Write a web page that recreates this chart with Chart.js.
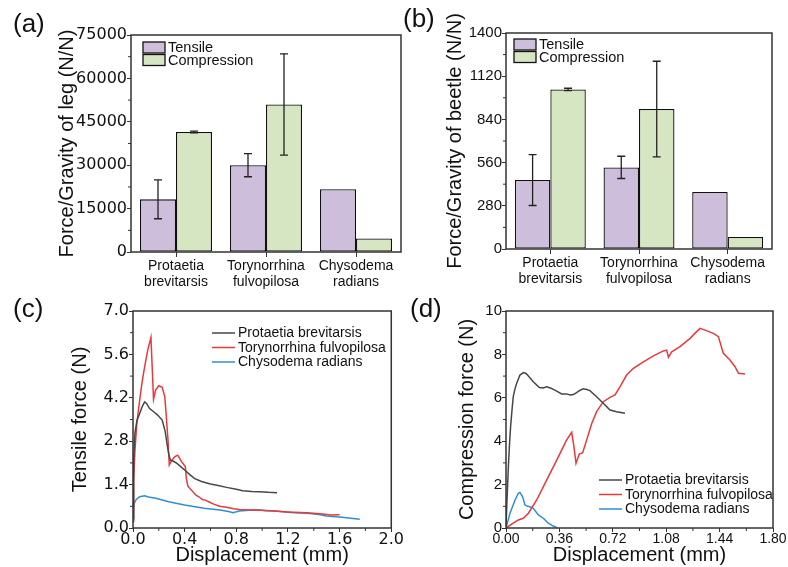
<!DOCTYPE html>
<html><head><meta charset="utf-8">
<script src="https://cdn.jsdelivr.net/npm/chart.js@4"></script>
<style>
html,body{margin:0;padding:0;background:#fff;}
#wrap{position:relative;width:788px;height:567px;overflow:hidden;background:#fff;}
canvas{position:absolute;}
</style></head><body>
<div id="wrap">
<canvas id="ca" width="404" height="290" style="left:0px;top:0px"></canvas>
<canvas id="cb" width="390" height="290" style="left:398px;top:0px"></canvas>
<canvas id="cc" width="404" height="277" style="left:0px;top:290px"></canvas>
<canvas id="cd" width="390" height="277" style="left:398px;top:290px"></canvas>
</div>
<script>
// ---------- DATA ----------
const species = [['Protaetia','brevitarsis'], ['Torynorrhina','fulvopilosa'], ['Chysodema','radians']];
const seriesNames = ['Tensile', 'Compression'];
const lineNames = ['Protaetia brevitarsis', 'Torynorrhina fulvopilosa', 'Chysodema radians'];

// (a) Force / gravity of leg
const aTensile = [18200, 30000, 21700];
const aTensileErr = [6700, 4000, 0];
const aCompression = [41500, 51000, 4700];
const aCompressionErr = [300, 17500, 0];
const aYTicks = [0, 15000, 30000, 45000, 60000, 75000];

// (b) Force / gravity of beetle
const bTensile = [447, 529, 369];
const bTensileErr = [165, 72, 0];
const bCompression = [1034, 907, 78];
const bCompressionErr = [8, 310, 0];
const bYTicks = [0, 280, 560, 840, 1120, 1400];

// (c) Tensile force vs displacement
const cProtX = [0, 0.005, 0.015, 0.03, 0.052, 0.075, 0.09, 0.105, 0.127, 0.16, 0.189, 0.226, 0.25, 0.262, 0.276, 0.289, 0.31, 0.338, 0.37, 0.4, 0.44, 0.475, 0.53, 0.6, 0.66, 0.725, 0.8, 0.85, 0.92, 0.975, 1.05, 1.115];
const cProtY = [0.3, 2.2, 3.06, 3.45, 3.7, 3.95, 4.07, 4.02, 3.86, 3.75, 3.65, 3.48, 3.1, 2.75, 2.4, 2.19, 2.16, 2.09, 1.98, 1.87, 1.72, 1.6, 1.5, 1.42, 1.37, 1.31, 1.25, 1.2, 1.18, 1.17, 1.15, 1.14];
const cToryX = [0, 0.005, 0.015, 0.03, 0.052, 0.07, 0.09, 0.114, 0.139, 0.159, 0.175, 0.2, 0.226, 0.246, 0.256, 0.271, 0.281, 0.301, 0.325, 0.346, 0.376, 0.405, 0.413, 0.425, 0.45, 0.488, 0.513, 0.537, 0.56, 0.59, 0.625, 0.67, 0.724, 0.78, 0.823, 0.9, 0.97, 1.03, 1.097, 1.2, 1.346, 1.47, 1.53, 1.6];
const cToryY = [0.2, 1.5, 2.5, 3.4, 4.13, 4.7, 5.2, 5.74, 6.15, 4.15, 4.45, 4.59, 4.54, 4.24, 3.7, 2.84, 2.03, 2.19, 2.3, 2.35, 2.14, 1.98, 1.6, 1.35, 1.23, 1.06, 1.0, 0.92, 0.9, 0.84, 0.77, 0.7, 0.67, 0.62, 0.6, 0.58, 0.58, 0.56, 0.55, 0.52, 0.49, 0.45, 0.42, 0.43];
const cChysX = [0, 0.003, 0.01, 0.025, 0.052, 0.09, 0.12, 0.177, 0.276, 0.4, 0.55, 0.674, 0.74, 0.774, 0.823, 0.9, 0.97, 1.097, 1.22, 1.37, 1.45, 1.495, 1.62, 1.756];
const cChysY = [0.26, 0.6, 0.8, 0.92, 1.01, 1.04, 1.0, 0.96, 0.85, 0.74, 0.64, 0.58, 0.53, 0.49, 0.55, 0.57, 0.58, 0.55, 0.5, 0.47, 0.43, 0.39, 0.35, 0.28];
const cXTicks = [0, 0.4, 0.8, 1.2, 1.6, 2.0];
const cYTicks = [0, 1.4, 2.8, 4.2, 5.6, 7.0];

// (d) Compression force vs displacement
const dProtX = [0, 0.008, 0.016, 0.024, 0.031, 0.04, 0.049, 0.06, 0.072, 0.094, 0.117, 0.135, 0.151, 0.184, 0.225, 0.25, 0.274, 0.3, 0.319, 0.345, 0.375, 0.409, 0.432, 0.455, 0.476, 0.5, 0.521, 0.545, 0.566, 0.611, 0.656, 0.701, 0.746, 0.802];
const dProtY = [0.1, 1.5, 2.83, 3.9, 4.67, 5.4, 6.05, 6.4, 6.67, 7.05, 7.16, 7.12, 7.0, 6.74, 6.47, 6.45, 6.51, 6.45, 6.39, 6.3, 6.18, 6.18, 6.13, 6.15, 6.24, 6.35, 6.42, 6.38, 6.33, 6.05, 5.75, 5.44, 5.36, 5.29];
const dToryX = [0, 0.049, 0.083, 0.117, 0.151, 0.207, 0.274, 0.342, 0.409, 0.443, 0.458, 0.472, 0.494, 0.517, 0.544, 0.578, 0.611, 0.656, 0.701, 0.735, 0.769, 0.813, 0.859, 0.926, 0.994, 1.061, 1.083, 1.095, 1.117, 1.173, 1.241, 1.285, 1.308, 1.342, 1.398, 1.432, 1.465, 1.51, 1.544, 1.567, 1.611];
const dToryY = [0, 0.22, 0.37, 0.45, 0.68, 1.29, 2.21, 3.13, 4.06, 4.41, 3.75, 2.98, 3.41, 3.47, 4.06, 4.82, 5.36, 5.82, 6.02, 6.13, 6.51, 7.05, 7.36, 7.66, 7.93, 8.16, 8.2, 7.87, 8.12, 8.36, 8.74, 9.05, 9.2, 9.12, 8.97, 8.82, 8.05, 7.74, 7.43, 7.13, 7.1];
const dChysX = [0, 0.027, 0.061, 0.083, 0.094, 0.112, 0.128, 0.145, 0.162, 0.184, 0.218, 0.252, 0.285, 0.319, 0.342];
const dChysY = [0, 0.68, 1.29, 1.6, 1.64, 1.44, 1.06, 1.0, 0.98, 0.91, 0.6, 0.45, 0.22, 0.09, 0.03];
const dXTicks = [0, 0.36, 0.72, 1.08, 1.44, 1.80];
const dYTicks = [0, 2, 4, 6, 8, 10];

// ---------- STYLE ----------
const FONT = "'Liberation Sans', Arial, Helvetica, sans-serif";
const WIDE = "'DejaVu Sans', 'Liberation Sans', sans-serif";
const TXT = '#111';
const AX = '#333';
const purple = '#cdbfdc';
const green = '#d6e6c2';
const lineColors = ['#474747', '#e8393c', '#2e8fd0'];

function pts(xs, ys) { return xs.map((x, i) => ({x: x, y: ys[i]})); }
function setTicks(arr) { return s => { s.ticks = arr.map(v => ({value: v})); }; }

function framePlugin() {
  return { id: 'frame', afterDraw(chart) {
    const {ctx, chartArea: a} = chart;
    ctx.save(); ctx.strokeStyle = AX; ctx.lineWidth = 1.5;
    ctx.strokeRect(a.left, a.top, a.right - a.left, a.bottom - a.top);
    ctx.restore();
  }};
}
function minorPlugin(yMajor, xMajor) {
  return { id: 'minor', afterDraw(chart) {
    const {ctx, chartArea: a} = chart;
    ctx.save(); ctx.strokeStyle = AX; ctx.lineWidth = 1;
    const ys = chart.scales.y;
    for (let i = 0; i < yMajor.length - 1; i++) {
      const p = ys.getPixelForValue((yMajor[i] + yMajor[i + 1]) / 2);
      ctx.beginPath(); ctx.moveTo(a.left - 3, p); ctx.lineTo(a.left, p); ctx.stroke();
    }
    if (xMajor) {
      const xs = chart.scales.x;
      for (let i = 0; i < xMajor.length - 1; i++) {
        const p = xs.getPixelForValue((xMajor[i] + xMajor[i + 1]) / 2);
        ctx.beginPath(); ctx.moveTo(p, a.bottom); ctx.lineTo(p, a.bottom + 3); ctx.stroke();
      }
    }
    ctx.restore();
  }};
}
function errPlugin() {
  return { id: 'err', afterDatasetsDraw(chart) {
    const ctx = chart.ctx, y = chart.scales.y;
    ctx.save(); ctx.strokeStyle = '#222'; ctx.lineWidth = 1.3;
    chart.data.datasets.forEach((ds, di) => {
      const meta = chart.getDatasetMeta(di);
      ds.errors.forEach((e, i) => {
        if (!e) return;
        const x = meta.data[i].x, v = ds.data[i];
        const yt = y.getPixelForValue(v + e), yb = y.getPixelForValue(v - e);
        ctx.beginPath();
        ctx.moveTo(x, yt); ctx.lineTo(x, yb);
        ctx.moveTo(x - 4, yt); ctx.lineTo(x + 4, yt);
        ctx.moveTo(x - 4, yb); ctx.lineTo(x + 4, yb);
        ctx.stroke();
      });
    });
    ctx.restore();
  }};
}
function labelPlugin(text, x, y) {
  return { id: 'plabel', afterDraw(chart) {
    const ctx = chart.ctx;
    ctx.save(); ctx.fillStyle = TXT; ctx.font = '26px ' + FONT;
    ctx.textBaseline = 'middle'; ctx.textAlign = 'left';
    ctx.fillText(text, x, y); ctx.restore();
  }};
}
function barLegendPlugin(x, y0, colors) {
  return { id: 'blegend', afterDraw(chart) {
    const ctx = chart.ctx;
    ctx.save();
    seriesNames.forEach((n, i) => {
      const top = y0 + i * 12.5;
      ctx.fillStyle = colors[i]; ctx.fillRect(x, top, 22, 11);
      ctx.strokeStyle = '#111'; ctx.lineWidth = 1.3; ctx.strokeRect(x, top, 22, 11);
      ctx.fillStyle = TXT; ctx.font = '14.5px ' + FONT; ctx.textBaseline = 'middle';
      ctx.fillText(n, x + 25, top + 6);
    });
    ctx.restore();
  }};
}
function lineLegendPlugin(x, y0) {
  return { id: 'llegend', afterDraw(chart) {
    const ctx = chart.ctx;
    ctx.save();
    lineNames.forEach((n, i) => {
      const y = y0 + i * 14.5;
      ctx.strokeStyle = lineColors[i]; ctx.lineWidth = 1.5;
      ctx.beginPath(); ctx.moveTo(x, y); ctx.lineTo(x + 23, y); ctx.stroke();
      ctx.fillStyle = TXT; ctx.font = '14px ' + FONT; ctx.textBaseline = 'middle';
      ctx.fillText(n, x + 26, y + 0.5);
    });
    ctx.restore();
  }};
}

function barChart(id, o) {
  return new Chart(document.getElementById(id), {
    type: 'bar',
    data: {
      labels: species,
      datasets: [
        {label: seriesNames[0], data: o.t, errors: o.te, backgroundColor: purple, borderColor: '#111', borderWidth: 1.3, borderSkipped: false},
        {label: seriesNames[1], data: o.c, errors: o.ce, backgroundColor: green, borderColor: '#111', borderWidth: 1.3, borderSkipped: false}
      ]
    },
    options: {
      responsive: false, animation: false, devicePixelRatio: 1,
      layout: {padding: o.pad},
      datasets: {bar: {categoryPercentage: 0.8, barPercentage: 1.0}},
      plugins: {legend: {display: false}, tooltip: {enabled: false}},
      scales: {
        x: {
          afterFit: s => { s.height = o.xh; },
          border: {display: false},
          grid: {offset: false, drawOnChartArea: false, tickLength: 5, tickColor: AX, tickWidth: 1},
          ticks: {color: TXT, font: {family: FONT, size: 14, lineHeight: 1.143}, padding: 1, maxRotation: 0, autoSkip: false}
        },
        y: {
          min: 0, max: o.yt[o.yt.length - 1],
          afterBuildTicks: setTicks(o.yt),
          afterFit: s => { s.width = o.yw; },
          border: {display: false},
          grid: {drawOnChartArea: false, tickLength: 4, tickColor: AX},
          ticks: {color: TXT, font: {family: o.tfam, size: o.tf}, padding: 0, callback: v => String(v)},
          title: {display: true, text: o.title, color: TXT, font: {family: FONT, size: 20}, padding: 0}
        }
      }
    },
    plugins: [errPlugin(), framePlugin(), minorPlugin(o.yt, null), labelPlugin(o.label, o.lx, o.ly), barLegendPlugin(o.legx, o.legy, [purple, green])]
  });
}

function lineChart(id, o) {
  const mk = (xs, ys, i) => ({label: lineNames[i], data: pts(xs, ys), borderColor: lineColors[i], borderWidth: 1.5, pointRadius: 0, tension: 0, showLine: true, fill: false});
  return new Chart(document.getElementById(id), {
    type: 'scatter',
    data: {datasets: [mk(o.d[0][0], o.d[0][1], 0), mk(o.d[1][0], o.d[1][1], 1), mk(o.d[2][0], o.d[2][1], 2)]},
    options: {
      responsive: false, animation: false, devicePixelRatio: 1,
      layout: {padding: o.pad},
      plugins: {legend: {display: false}, tooltip: {enabled: false}},
      scales: {
        x: {
          type: 'linear', min: o.xt[0], max: o.xt[o.xt.length - 1],
          afterBuildTicks: setTicks(o.xt),
          afterFit: s => { s.height = o.xh; },
          border: {display: false},
          grid: {drawOnChartArea: false, tickLength: 4, tickColor: AX},
          ticks: {color: TXT, font: {family: o.xfam, size: o.xfs, lineHeight: 1}, padding: 0, maxRotation: 0, autoSkip: false, callback: v => v.toFixed(o.xdec)},
          title: {display: true, text: 'Displacement (mm)', color: TXT, font: {family: FONT, size: 20}, padding: 0}
        },
        y: {
          type: 'linear', min: o.yt[0], max: o.yt[o.yt.length - 1],
          afterBuildTicks: setTicks(o.yt),
          afterFit: s => { s.width = o.yw; },
          border: {display: false},
          grid: {drawOnChartArea: false, tickLength: 4, tickColor: AX},
          ticks: {color: TXT, font: {family: o.yfam, size: o.yfs}, padding: 0, callback: v => v.toFixed(o.ydec)},
          title: {display: true, text: o.title, color: TXT, font: {family: FONT, size: 20}, padding: 0}
        }
      }
    },
    plugins: [framePlugin(), minorPlugin(o.yt, o.xt), labelPlugin(o.label, o.lx, o.ly), lineLegendPlugin(o.legx, o.legy)]
  });
}

barChart('ca', {t: aTensile, te: aTensileErr, c: aCompression, ce: aCompressionErr, yt: aYTicks,
  pad: {left: 55, top: 35, right: 3, bottom: 0}, xh: 38, yw: 76, tf: 16, tfam: WIDE,
  title: 'Force/Gravity of leg (N/N)', label: '(a)', lx: 13, ly: 25, legx: 143, legy: 42});
barChart('cb', {t: bTensile, te: bTensileErr, c: bCompression, ce: bCompressionErr, yt: bYTicks,
  pad: {left: 45, top: 33, right: 16, bottom: 0}, xh: 41, yw: 63, tf: 15, tfam: FONT,
  title: 'Force/Gravity of beetle (N/N)', label: '(b)', lx: 5, ly: 20, legx: 116, legy: 39});
lineChart('cc', {d: [[cProtX, cProtY], [cToryX, cToryY], [cChysX, cChysY]], xt: cXTicks, yt: cYTicks, xdec: 1, ydec: 1,
  xfam: WIDE, xfs: 16, yfam: WIDE, yfs: 16,
  pad: {left: 68, top: 21, right: 3, bottom: 0}, xh: 39, yw: 65,
  title: 'Tensile force (N)', label: '(c)', lx: 13, ly: 20, legx: 212, legy: 43});
lineChart('cd', {d: [[dProtX, dProtY], [dToryX, dToryY], [dChysX, dChysY]], xt: dXTicks, yt: dYTicks, xdec: 2, ydec: 0,
  xfam: FONT, xfs: 14, yfam: FONT, yfs: 15,
  pad: {left: 57, top: 21, right: 15, bottom: 0}, xh: 39, yw: 51,
  title: 'Compression force (N)', label: '(d)', lx: 12, ly: 20, legx: 201, legy: 190});
</script>
</body></html>
